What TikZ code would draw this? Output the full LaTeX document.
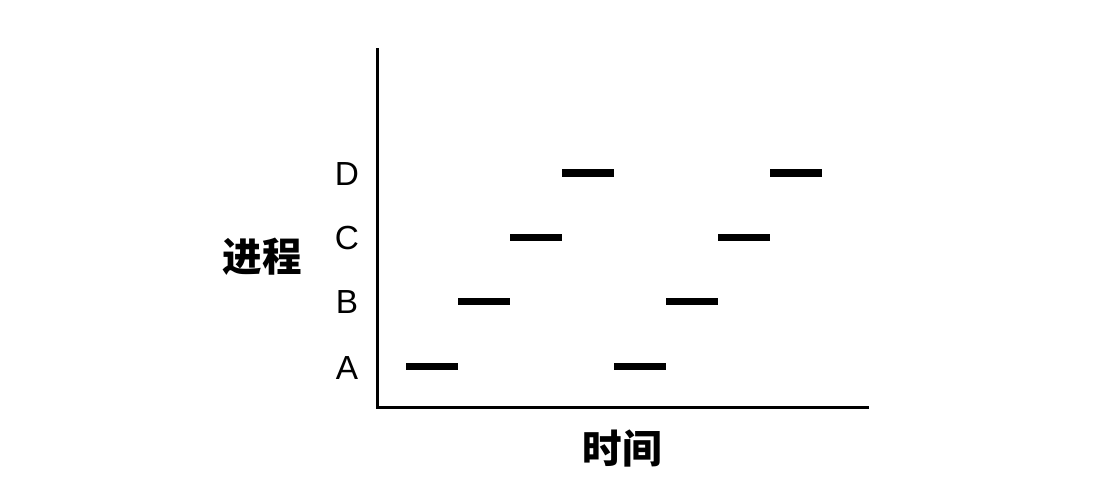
\documentclass[tikz,border=0pt]{standalone}
\usepackage{fontspec}
\setmainfont{Liberation Sans}
\newfontfamily\cjk{Noto Sans CJK SC}
\usetikzlibrary{positioning}

\begin{document}
\begin{tikzpicture}[x=0.02cm, y=-0.02cm, axis/.style={line width=1.7pt}, slot/.style={line width=4pt}, lane/.style={font=\fontsize{19}{19}\selectfont}, title/.style={font=\cjk\bfseries\fontsize{22.5}{22.5}\selectfont}]
\useasboundingbox (0,0) rectangle (1114,488);

\coordinate (top) at (377,48); \coordinate (O) at (377,407); \coordinate (right) at (869,407);
\draw[axis] (top)--(O)--(right);

\node[lane] (A) at (347,368) {A}; \node[lane] (B) at (347,302) {B};
\node[lane] (C) at (347,238) {C}; \node[lane] (D) at (347,174) {D};
\node[title] (proc) at (262,257) {进程}; \node[title] (time) at (622,448) {时间};

\foreach \x/\y in {406/366, 458/301.5, 510/237.5, 562/173, 614/366, 666/301.5, 718/237.5, 770/173}
  \draw[slot] (\x,\y)--++(52,0);
\end{tikzpicture}
\end{document}
